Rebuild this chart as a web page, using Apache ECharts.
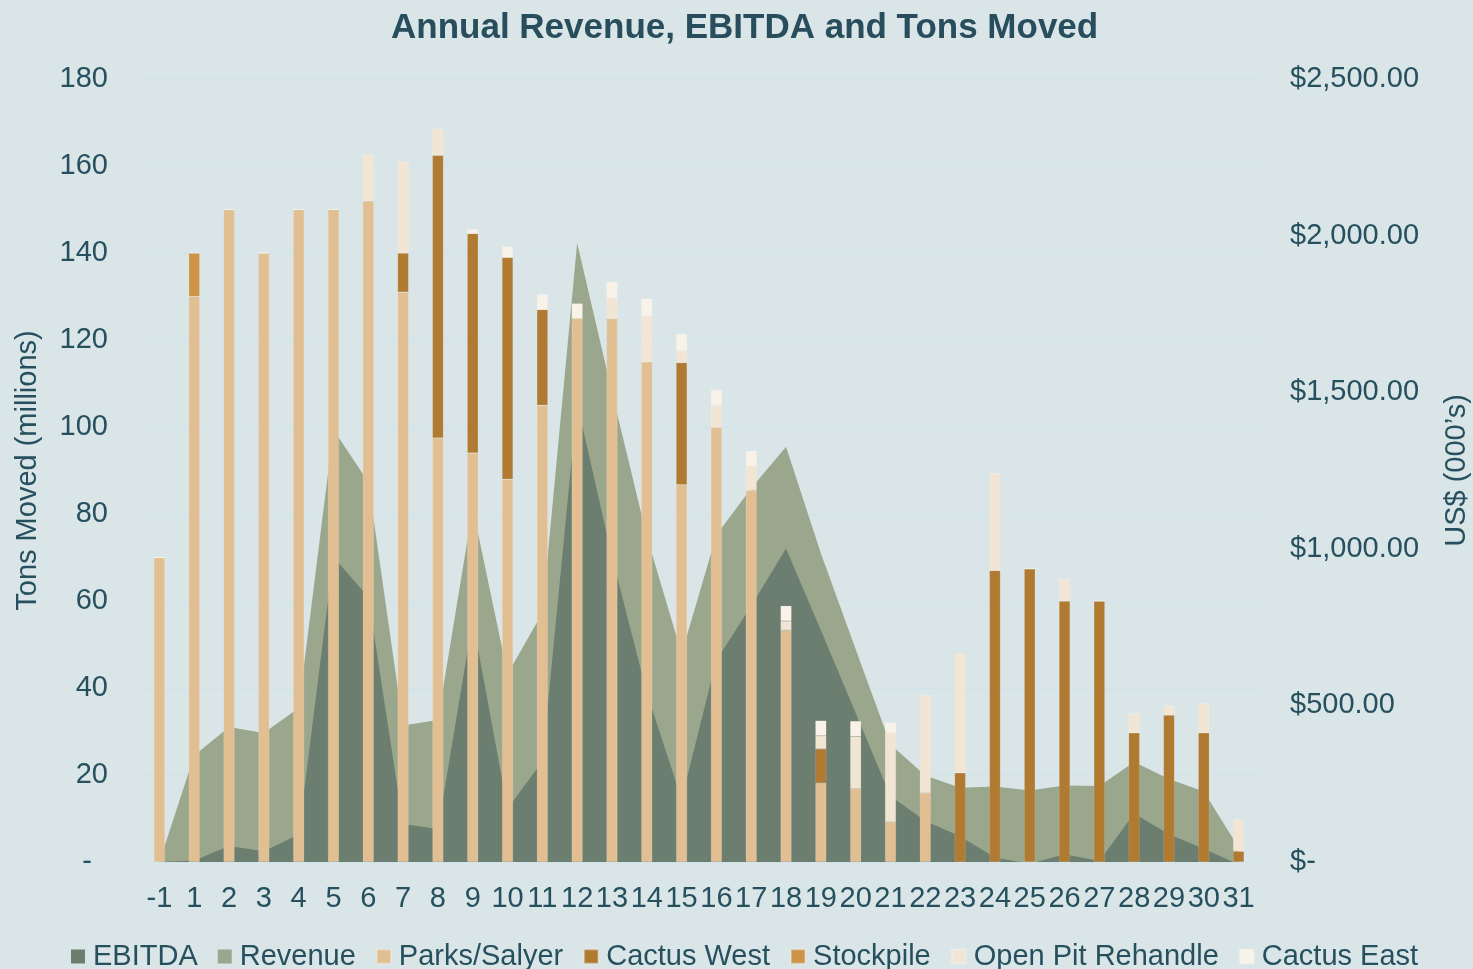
<!DOCTYPE html>
<html>
<head>
<meta charset="utf-8">
<script src="https://cdn.jsdelivr.net/npm/echarts@6/dist/echarts.min.js"></script>
<style>
html,body{margin:0;padding:0;background:#d9e5e7;}
#chart{width:1473px;height:969px;}
</style>
</head>
<body>
<div id="chart"></div>
<script>
const categories = ['-1','1','2','3','4','5','6','7','8','9','10','11','12','13','14','15','16','17','18','19','20','21','22','23','24','25','26','27','28','29','30','31'];

const parksSalyer = [70,130,150,140,150,150,152,131,97.5,94,88,105,125,125,115,86.7,100,85.5,53.3,18.2,16.9,9.2,15.9,0,0,0,0,0,0,0,0,0];
const cactusWest = [0,0,0,0,0,0,0,9,65,50.5,51,22,0,0,0,28.1,0,0,0,7.8,0,0,0,20.5,67,67.4,60,60,29.7,33.8,29.7,2.5];
const stockpile = [0,10,0,0,0,0,0,0,0,0,0,0,0,0,0,0,0,0,0,0,0,0,0,0,0,0,0,0,0,0,0,0];
const openPitRehandle = [0,0,0,0,0,0,10.5,21,6,0,0,0,0,4.6,10.5,2.7,4.9,5.5,2.1,3,12,20.5,22.4,27.3,22.3,0,5,0,4.4,2.1,6.7,7.2];
const cactusEast = [0,0,0,0,0,0,0,0,0,1,2.5,3.5,3.4,3.8,4,3.9,3.6,3.5,3.5,3.5,3.5,2.4,0,0,0,0,0,0,0,0,0,0];

const revenue = [0,340,431,412,492,1380,1213,436,453,1130,600,795,1976,1500,1040,665,1044,1193,1326,986,679,375,276,237,241,228,244,243,319,265,225,46];
const ebitda = [0,5,51,34,88,974,846,121,105,773,170,322,1466,975,540,200,645,817,1001,740,476,211,131,82,14,-6,25,3,155,89,42,-8];

const leftTicks = {min:0, max:180, interval:20};
const rightTicks = {min:0, max:2500, interval:500};

const FONT = '"Liberation Sans", Arial, sans-serif';
const TXT = '#27505f';

const chart = echarts.init(document.getElementById('chart'), null, {renderer:'canvas'});

function barSeries(name, data, color){
  return {
    name, type:'bar', stack:'tons', data, barWidth:11, yAxisIndex:0, z:3,
    itemStyle:{color, borderColor:'rgba(255,255,255,0.25)', borderWidth:0.5},
    emphasis:{disabled:true}
  };
}

chart.setOption({
  backgroundColor:'#d9e5e7',
  animation:false,
  textStyle:{fontFamily:FONT, color:TXT},
  title:{
    text:'Annual Revenue, EBITDA and Tons Moved',
    left:386, top:6,
    textStyle:{fontFamily:FONT, fontSize:35, fontWeight:'bold', color:'#284d5c'}
  },
  legend:{
    left:71, top:942, padding:0, itemGap:20, itemWidth:14, itemHeight:14,
    icon:'rect',
    textStyle:{fontFamily:FONT, fontSize:29, color:TXT, padding:[0,0,0,3]},
    data:['EBITDA','Revenue','Parks/Salyer','Cactus West','Stockpile','Open Pit Rehandle','Cactus East']
  },
  grid:{left:142, right:217, top:79, bottom:107, containLabel:false, outerBoundsMode:'none'},
  xAxis:{
    type:'category', data:categories, boundaryGap:true,
    axisLine:{show:false}, axisTick:{show:false},
    axisLabel:{interval:0, fontFamily:FONT, fontSize:29, color:TXT, margin:22}
  },
  yAxis:[
    {
      type:'value', min:leftTicks.min, max:leftTicks.max, interval:leftTicks.interval,
      name:'Tons Moved (millions)', nameLocation:'middle', nameGap:100,
      nameTextStyle:{fontFamily:FONT, fontSize:29, color:TXT},
      axisLine:{show:false}, axisTick:{show:false},
      axisLabel:{fontFamily:FONT, fontSize:29, color:TXT, margin:34,
        formatter:v => v===0 ? '-  ' : String(v)},
      splitLine:{show:true, lineStyle:{color:'#d1e3ea', width:1}}
    },
    {
      type:'value', min:rightTicks.min, max:rightTicks.max, interval:rightTicks.interval,
      position:'right',
      name:'US$ (000\u2019s)', nameLocation:'middle', nameGap:186, nameRotate:90,
      nameTextStyle:{fontFamily:FONT, fontSize:29, color:TXT},
      axisLine:{show:false}, axisTick:{show:false},
      axisLabel:{fontFamily:FONT, fontSize:29, color:TXT, margin:34,
        formatter:v => v===0 ? '$-' : '$' + v.toLocaleString('en-US',{minimumFractionDigits:2, maximumFractionDigits:2})},
      splitLine:{show:false}
    }
  ],
  series:[
    {
      name:'Revenue', type:'line', yAxisIndex:1, data:revenue, z:1,
      symbol:'none', lineStyle:{width:0}, itemStyle:{color:'#9ba78d'},
      areaStyle:{color:'#9ba78d', opacity:1}, emphasis:{disabled:true}
    },
    {
      name:'EBITDA', type:'line', yAxisIndex:1, data:ebitda, z:2,
      symbol:'none', lineStyle:{width:0}, itemStyle:{color:'#6b7e6f'},
      areaStyle:{color:'#6b7e6f', opacity:1}, emphasis:{disabled:true}
    },
    barSeries('Parks/Salyer', parksSalyer, '#e2bf92'),
    barSeries('Cactus West', cactusWest, '#b07a31'),
    barSeries('Stockpile', stockpile, '#cd9347'),
    barSeries('Open Pit Rehandle', openPitRehandle, '#f2e5d4'),
    barSeries('Cactus East', cactusEast, '#f8f2e8')
  ]
});
</script>
</body>
</html>
